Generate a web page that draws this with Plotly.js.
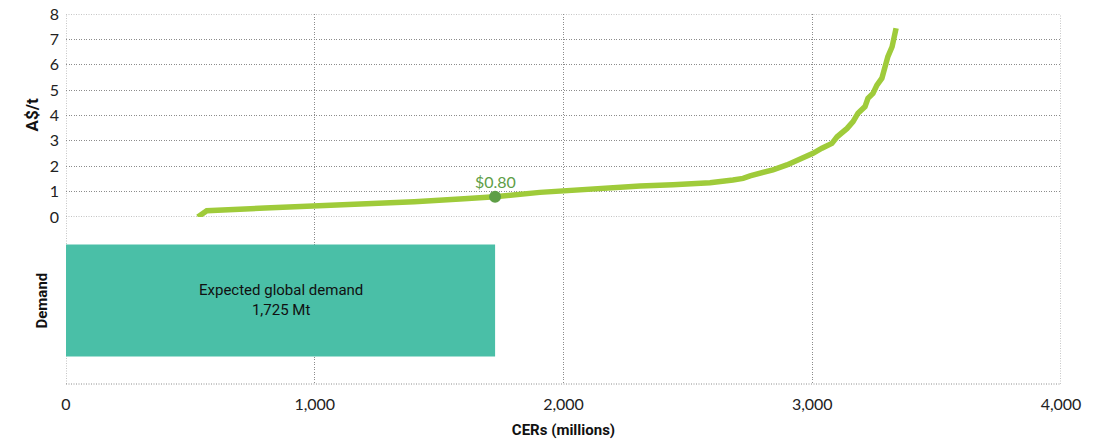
<!DOCTYPE html>
<html>
<head>
<meta charset="utf-8">
<script src="https://cdn.plot.ly/plotly-3.0.1.min.js"></script>
<style>html,body{margin:0;padding:0;background:#fff;}#chart{width:1093px;height:442px;}</style>
</head>
<body>
<div id="chart"></div>
<script>
// Supply curve (CERs in millions vs price A$/t)
const supplyX = [530, 566, 800, 1000, 1262, 1400, 1600, 1725, 1905, 2000, 2174, 2308, 2440, 2589, 2681, 2722, 2750, 2800, 2842, 2898, 2939, 3003, 3039, 3079, 3100, 3140, 3164, 3184, 3212, 3224, 3244, 3260, 3280, 3292, 3304, 3321, 3329, 3337];
const supplyY = [0, 0.25, 0.35, 0.44, 0.51, 0.6, 0.72, 0.8, 0.97, 1.03, 1.16, 1.22, 1.27, 1.35, 1.46, 1.52, 1.62, 1.74, 1.86, 2.05, 2.21, 2.51, 2.71, 2.90, 3.16, 3.49, 3.76, 4.09, 4.35, 4.68, 4.87, 5.20, 5.47, 5.92, 6.32, 6.71, 7.11, 7.44];
// Equilibrium point
const eqX = [1725];
const eqY = [0.8];
const eqLabel = ["$0.80"];
// Demand bar
const demandValue = [1725];
const demandCat = [0.5];
const demandText = "Expected global demand<br>1,725 Mt";
const yTicks = [0, 1, 2, 3, 4, 5, 6, 7, 8];
const xTicks = [0, 1000, 2000, 3000, 4000];
const xMin = 0, xMax = 4000, yMin = 0, yMax = 8;

const gridCol = '#8c8c8c';
const gridDash = '1px,1.5px';
const tickFont = {family: 'Lato, "Open Sans", sans-serif', size: 16, color: '#222'};
const boldFont = {family: 'Roboto, "Liberation Sans", sans-serif', size: 15, color: '#111', weight: 'bold'};
const edge = {color: gridCol, width: 1, dash: gridDash};

const traces = [
  {type: 'scatter', mode: 'lines', x: supplyX, y: supplyY, xaxis: 'x', yaxis: 'y',
   line: {color: '#9fcb3a', width: 5.5}, hoverinfo: 'skip', showlegend: false},
  {type: 'scatter', mode: 'markers', x: eqX, y: eqY, xaxis: 'x', yaxis: 'y',
   marker: {color: '#5e9e46', size: 12}, showlegend: false},
  {type: 'bar', orientation: 'h', x: demandValue, y: demandCat, xaxis: 'x2', yaxis: 'y2',
   width: 0.67, marker: {color: '#4abfa7', line: {width: 0}}, showlegend: false, hoverinfo: 'skip'}
];

const layout = {
  width: 1093, height: 442,
  margin: {l: 66, r: 32, t: 14, b: 58},
  paper_bgcolor: '#fff', plot_bgcolor: '#fff',
  showlegend: false,
  xaxis: {domain: [0, 1], range: [xMin, xMax], anchor: 'y', tickvals: xTicks, showticklabels: false,
          showgrid: true, gridcolor: gridCol, griddash: gridDash, gridwidth: 1, zeroline: false, showline: false, ticks: ''},
  yaxis: {domain: [0.4514, 1], range: [yMin, yMax], anchor: 'x', tickvals: yTicks,
          showgrid: true, gridcolor: gridCol, griddash: gridDash, gridwidth: 1, zeroline: false, showline: false,
          ticks: '', tickfont: tickFont, ticklabelstandoff: 6},
  xaxis2: {domain: [0, 1], range: [xMin, xMax], anchor: 'y2', tickvals: xTicks, tickformat: ',',
           showgrid: true, gridcolor: gridCol, griddash: gridDash, gridwidth: 1, zeroline: false, showline: false,
           ticks: '', tickfont: tickFont, ticklabelstandoff: 9,
           title: {text: 'CERs (millions)', font: boldFont, standoff: 12}},
  yaxis2: {domain: [0, 0.4514], range: [0, 1], anchor: 'x2', showgrid: false, zeroline: false,
           showticklabels: false, ticks: '', showline: false},
  shapes: [
    {type: 'line', layer: 'below', xref: 'paper', yref: 'paper', x0: 0, x1: 1, y0: 0, y1: 0, line: edge},
    {type: 'line', layer: 'below', xref: 'x', yref: 'paper', x0: xMin, x1: xMin, y0: 0, y1: 1, line: edge},
    {type: 'line', layer: 'below', xref: 'x', yref: 'paper', x0: xMax, x1: xMax, y0: 0, y1: 1, line: edge},
    {type: 'line', layer: 'below', xref: 'paper', yref: 'y', x0: 0, x1: 1, y0: yMin, y1: yMin, line: edge},
    {type: 'line', layer: 'below', xref: 'paper', yref: 'y', x0: 0, x1: 1, y0: yMax, y1: yMax, line: edge}
  ],
  annotations: [
    {xref: 'paper', yref: 'paper', x: 0, y: 0.7257, xanchor: 'center', yanchor: 'middle', xshift: -34,
     text: 'A$/t', textangle: -90, showarrow: false, font: Object.assign({}, boldFont, {size: 17})},
    {xref: 'paper', yref: 'paper', x: 0, y: 0.2257, xanchor: 'center', yanchor: 'middle', xshift: -24,
     text: 'Demand', textangle: -90, showarrow: false, font: boldFont},
    {xref: 'x', yref: 'y', x: eqX[0], y: eqY[0], yshift: 15, text: eqLabel[0], showarrow: false,
     font: {family: 'Lato, sans-serif', size: 16, color: '#5e9e46'}},
    {xref: 'x2', yref: 'y2', x: demandValue[0] / 2, y: demandCat[0], text: demandText, showarrow: false,
     font: {family: '"Liberation Sans Narrow", Roboto, sans-serif', size: 15, color: '#111'}}
  ]
};

Plotly.newPlot('chart', traces, layout, {displayModeBar: false, staticPlot: true});
</script>
</body>
</html>
